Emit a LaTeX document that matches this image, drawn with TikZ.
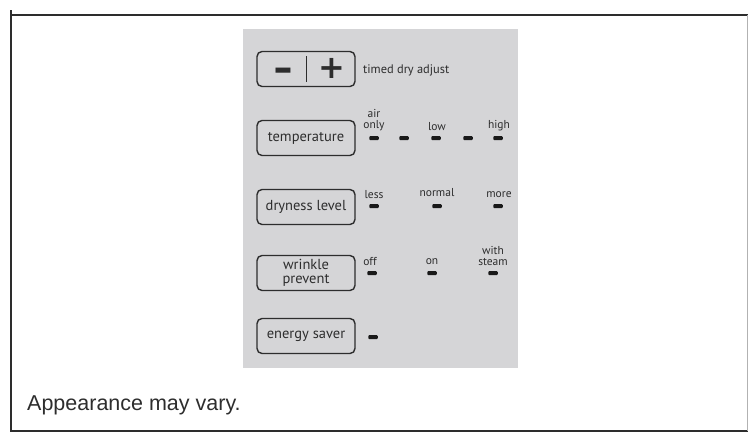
\documentclass[tikz,border=0pt]{standalone}
\usepackage{fontspec}
\setmainfont{PT Sans}
\newfontfamily\notefont{Liberation Sans}
\newfontfamily\signfont{DejaVu Sans}
\usetikzlibrary{positioning}
\definecolor{panelgray}{RGB}{213,213,215}
\definecolor{inkgray}{RGB}{45,45,45}

\begin{document}
\begin{tikzpicture}[x=1pt,y=-1pt,
		button/.style={draw=inkgray, line width=1.4pt, rounded corners=5pt,
			minimum width=98pt, minimum height=35pt, inner sep=0pt, align=center,
			text=inkgray, font=\fontsize{14.5}{14}\selectfont},
		led/.style={fill=black!90, rounded corners=1pt, minimum width=9.5pt,
			minimum height=4pt, inner sep=0pt},
		lbl/.style={inner sep=0pt, text=inkgray, align=center,
			font=\fontsize{11.5}{11.5}\selectfont}]
		\useasboundingbox (0,0) rectangle (748,432);
		% outer frame
		\draw[line width=2pt, inkgray] (10,15) -- (748,15);
		\draw[line width=2pt, inkgray] (11,10) -- (11,431) -- (748,431);
		\draw[line width=1pt, black!30] (747,15) -- (747,431);
		% control panel
		\fill[panelgray] (243,29) rectangle (518,368);
		% buttons
		\node[button] (adjust) at (306,69) {};
		\draw[line width=1pt, inkgray] ([yshift=-5.5pt]adjust.north) -- ([yshift=5.5pt]adjust.south);
		\node[anchor=base, inner sep=0pt, text=inkgray, font=\signfont\bfseries\fontsize{34}{34}\selectfont] (minus) at (283,84) {\scalebox{0.7}[1.3]{−}};
		\node[text=inkgray, font=\signfont\bfseries\fontsize{32}{32}\selectfont] (plus) at (332,68) {+};
		\node[lbl, anchor=west, font=\fontsize{12.4}{12}\selectfont] (timed) at (363,70) {timed dry adjust};
		\node[button] (temp) at (306,138) {temperature};
		\node[button] (dry) at (306,207) {dryness level};
		\node[button] (wrinkle) at (306,273) {wrinkle\\prevent};
		\node[button] (energy) at (306,336) {energy saver};
		% temperature leds
		\node[led] (t1) at (374,138) {};
		\node[led] (t2) at (404,138) {};
		\node[led] (t3) at (436,138) {};
		\node[led] (t4) at (468,138) {};
		\node[led] (t5) at (498,138) {};
		\node[lbl] (air) at (374,120) {air\\only};
		\node[lbl] (low) at (437,127) {low};
		\node[lbl] (high) at (499,126) {high};
		% dryness leds
		\node[led] (d1) at (374,206) {};
		\node[led] (d2) at (437,206) {};
		\node[led] (d3) at (498,206) {};
		\node[lbl] (less) at (374,195) {less};
		\node[lbl] (normal) at (437,193) {normal};
		\node[lbl] (more) at (499,195) {more};
		% wrinkle leds
		\node[led] (w1) at (372,273) {};
		\node[led] (w2) at (432,273) {};
		\node[led] (w3) at (493,273) {};
		\node[lbl] (off) at (370,262) {off};
		\node[lbl] (on) at (432,262) {on};
		\node[lbl] (steam) at (493,256) {with\\steam};
		% energy saver led
		\node[led] (e1) at (373,337) {};
		% note
		\node[anchor=base west, inner sep=0pt, text=inkgray,
			font=\notefont\fontsize{21.5}{24}\selectfont] (note) at (27,410) {Appearance may vary.};
	\end{tikzpicture}
\end{document}
